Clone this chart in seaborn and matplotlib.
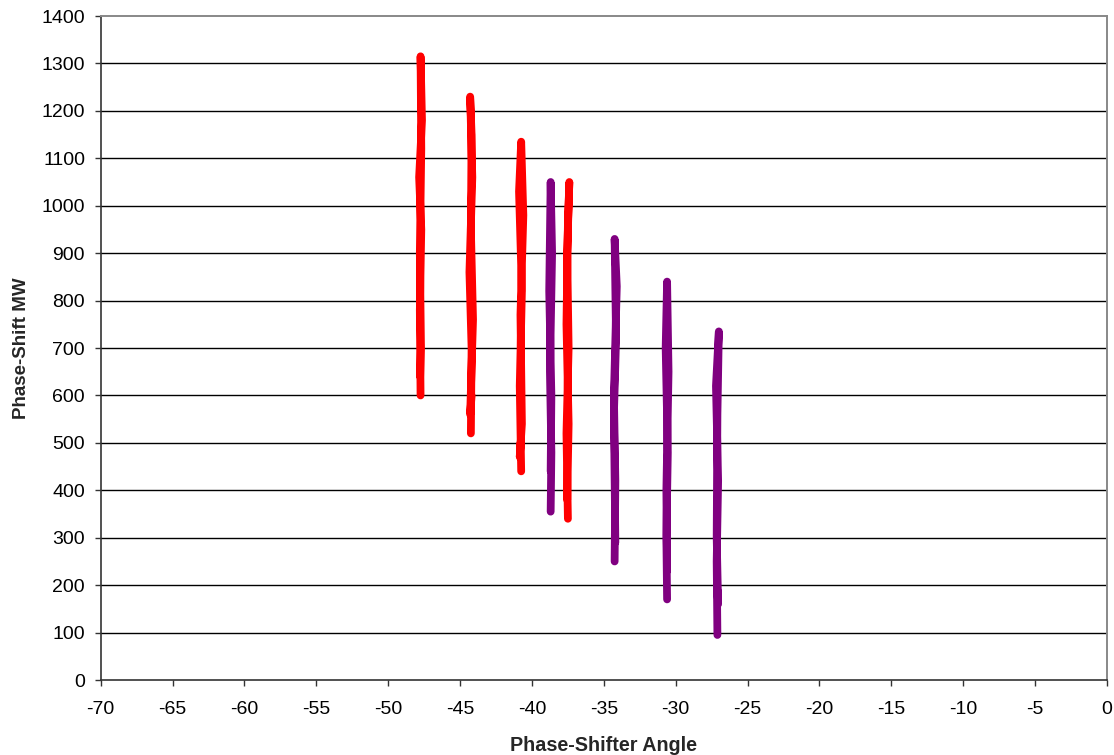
import matplotlib
matplotlib.use("Agg")
import matplotlib.pyplot as plt
import seaborn as sns
import pandas as pd

# Phase-shifter angle vs. MW flow, traced as one path per tap setting
red_a_x = [-47.75, -47.8, -47.7, -47.85, -47.65, -47.75, -47.7, -47.8, -47.72, -47.78]
red_a_y = [600, 780, 950, 1060, 1180, 1315, 1120, 900, 700, 640]
red_b_x = [-44.25, -44.2, -44.35, -44.15, -44.3, -44.2, -44.25, -44.1, -44.3, -44.2]
red_b_y = [520, 700, 860, 1060, 1230, 1150, 950, 760, 560, 600]
red_c_x = [-40.75, -40.85, -40.7, -40.9, -40.75, -40.6, -40.8, -40.7, -40.85, -40.8]
red_c_y = [440, 620, 820, 1030, 1135, 980, 770, 540, 470, 500]
red_d_x = [-37.5, -37.6, -37.45, -37.55, -37.4, -37.5, -37.6, -37.45, -37.55]
red_d_y = [340, 520, 700, 900, 1050, 960, 750, 540, 380]

pur_a_x = [-38.7, -38.65, -38.75, -38.6, -38.7, -38.8, -38.65, -38.7]
pur_a_y = [355, 480, 650, 900, 1050, 820, 600, 440]
pur_b_x = [-34.25, -34.2, -34.3, -34.1, -34.25, -34.15, -34.3, -34.2]
pur_b_y = [250, 420, 600, 830, 930, 720, 560, 290]
pur_c_x = [-30.6, -30.65, -30.55, -30.7, -30.6, -30.5, -30.65, -30.6]
pur_c_y = [170, 300, 480, 700, 840, 650, 400, 230]
pur_d_x = [-27.1, -27.15, -27.05, -27.2, -27.0, -27.1, -27.15, -27.05, -27.1]
pur_d_y = [95, 250, 420, 620, 735, 560, 300, 160, 190]

strips = [
    ("red", red_a_x, red_a_y), ("red", red_b_x, red_b_y),
    ("red", red_c_x, red_c_y), ("red", red_d_x, red_d_y),
    ("purple", pur_a_x, pur_a_y), ("purple", pur_b_x, pur_b_y),
    ("purple", pur_c_x, pur_c_y), ("purple", pur_d_x, pur_d_y),
]

rows = []
for i, (grp, xs, ys) in enumerate(strips):
    for x, y in zip(xs, ys):
        rows.append({"angle": x, "mw": y, "group": grp, "strip": i})
df = pd.DataFrame(rows)

x_ticks = list(range(-70, 1, 5))
y_ticks = list(range(0, 1401, 100))

sns.set_theme(style="white")
plt.rcParams["font.family"] = ["Liberation Sans", "DejaVu Sans"]

fig = plt.figure(figsize=(11.14, 7.55), dpi=100)
ax = fig.add_axes([0.0904, 0.0993, 0.9033, 0.8795])

for y in y_ticks[1:-1]:
    ax.axhline(y, color="black", lw=1.0, zorder=1)

sns.lineplot(data=df, x="angle", y="mw", hue="group", units="strip",
             estimator=None, sort=False, palette={"red": "#ff0000", "purple": "#800080"},
             lw=5.6, legend=False, ax=ax, zorder=3,
             solid_capstyle="round", solid_joinstyle="round")

ax.set_xlim(-70, 0)
ax.set_ylim(0, 1400)
ax.set_xticks(x_ticks)
ax.set_yticks(y_ticks)
ax.set_xticklabels([str(t) for t in x_ticks], fontsize=14)
ax.set_yticklabels([str(t) for t in y_ticks], fontsize=14)
ax.tick_params(axis="both", direction="out", length=4.3, width=1, color="#333333",
               labelcolor="black", bottom=True, left=True)
ax.tick_params(axis="x", pad=11)
ax.tick_params(axis="y", pad=7)

for side in ["left", "bottom"]:
    ax.spines[side].set_color("#333333")
    ax.spines[side].set_linewidth(1.2)
for side in ["top", "right"]:
    ax.spines[side].set_color("#888888")
    ax.spines[side].set_linewidth(1.4)

ax.set_xlabel("Phase-Shifter Angle", fontsize=14.2, fontweight="bold", labelpad=13)
ax.set_ylabel("Phase-Shift MW", fontsize=13.5, fontweight="bold", labelpad=8)

fig.savefig("out.png", dpi=100, facecolor="white")
